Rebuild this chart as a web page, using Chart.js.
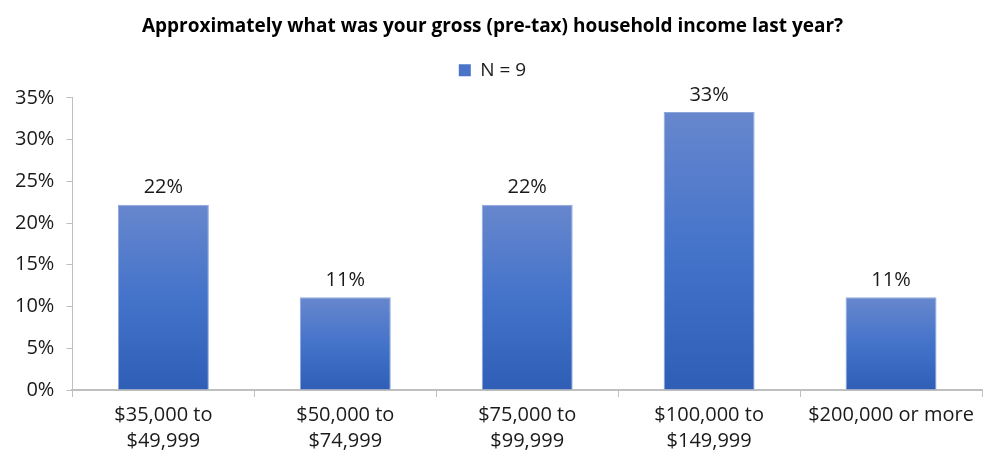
<!DOCTYPE html>
<html>
<head>
<meta charset="utf-8">
<script src="https://cdn.jsdelivr.net/npm/chart.js@4"></script>
<style>
  html, body { margin: 0; padding: 0; background: #ffffff; }
  #wrap { width: 991px; height: 459px; }
</style>
</head>
<body>
<div id="wrap"><canvas id="chart" width="991" height="459"></canvas></div>
<script>
const categories = [
    ["$35,000 to", "$49,999"],
    ["$50,000 to", "$74,999"],
    ["$75,000 to", "$99,999"],
    ["$100,000 to", "$149,999"],
    "$200,000 or more",
];
const seriesLabel = "N = 9";
const values = [22.2, 11.1, 22.2, 33.3, 11.1];
const valueLabels = ["22%", "11%", "22%", "33%", "11%"];
const yTicks = [0, 5, 10, 15, 20, 25, 30, 35];

const FONT = "'Open Sans', Lato, sans-serif";

// vertical gradient, lighter at the top like the Excel fill
function barFill(context) {
    const { chart } = context;
    const area = chart.chartArea;
    const yScale = chart.scales.y;
    if (!area || !yScale) return "#4472c4";
    const top = yScale.getPixelForValue(values[context.dataIndex]);
    if (!isFinite(top) || !isFinite(area.bottom)) return "#4472c4";
    const g = chart.ctx.createLinearGradient(0, top, 0, area.bottom);
    g.addColorStop(0, "#6787cd");
    g.addColorStop(0.5, "#4473ca");
    g.addColorStop(1, "#2f5eb6");
    return g;
}

const valueLabelPlugin = {
    id: "valueLabels",
    afterDatasetsDraw(chart) {
        const { ctx } = chart;
        const meta = chart.getDatasetMeta(0);
        ctx.save();
        ctx.font = "20px " + FONT;
        ctx.fillStyle = "#1a1a1a";
        ctx.textAlign = "center";
        ctx.textBaseline = "bottom";
        meta.data.forEach((bar, i) => {
            ctx.fillText(valueLabels[i], bar.x, bar.y - 7);
        });
        ctx.restore();
    },
};

// extra gap between the legend and the plot area
const legendGapPlugin = {
    id: "legendGap",
    beforeInit(chart) {
        if (!chart.legend) return;
        const origFit = chart.legend.fit;
        chart.legend.fit = function () {
            origFit.call(this);
            this.height += 8;
        };
    },
};

new Chart(document.getElementById("chart"), {
    type: "bar",
    data: {
        labels: categories,
        datasets: [{
            label: seriesLabel,
            data: values,
            backgroundColor: barFill,
            borderColor: "#8ea6dc",
            borderWidth: 1,
            categoryPercentage: 0.5,
            barPercentage: 1,
        }],
    },
    options: {
        responsive: false,
        animation: false,
        devicePixelRatio: 1,
        layout: { padding: { left: 3, right: 9, top: 0, bottom: 0 } },
        plugins: {
            title: {
                display: true,
                text: "Approximately what was your gross (pre-tax) household income last year?",
                color: "#000000",
                font: { family: FONT, size: 19, weight: "bold" },
                padding: { top: 15, bottom: 14 },
            },
            legend: {
                display: true,
                position: "top",
                labels: {
                    color: "#1a1a1a",
                    font: { family: FONT, size: 19 },
                    boxWidth: 12,
                    boxHeight: 12,
                    padding: 9,
                    generateLabels: () => [{
                        text: seriesLabel,
                        fillStyle: "#4a74c8",
                        strokeStyle: "#4a74c8",
                        lineWidth: 0,
                        fontColor: "#1a1a1a",
                    }],
                },
            },
            tooltip: { enabled: false },
        },
        scales: {
            x: {
                grid: {
                    display: true,
                    offset: true,
                    drawOnChartArea: false,
                    color: "#bfbfbf",
                    tickLength: 7,
                },
                border: { color: "#bfbfbf", width: 2 },
                ticks: {
                    color: "#1a1a1a",
                    font: { family: FONT, size: 20, lineHeight: 1.3 },
                    maxRotation: 0,
                    autoSkip: false,
                    padding: 5,
                },
            },
            y: {
                min: 0,
                max: 35,
                afterBuildTicks: (axis) => {
                    axis.ticks = yTicks.map((v) => ({ value: v }));
                },
                grid: {
                    display: true,
                    drawOnChartArea: false,
                    color: "#bfbfbf",
                    tickLength: 6,
                },
                border: { color: "#bfbfbf", width: 1 },
                ticks: {
                    color: "#1a1a1a",
                    font: { family: FONT, size: 20 },
                    padding: 12,
                    callback: (v) => v + "%",
                },
            },
        },
    },
    plugins: [valueLabelPlugin, legendGapPlugin],
});
</script>
</body>
</html>
